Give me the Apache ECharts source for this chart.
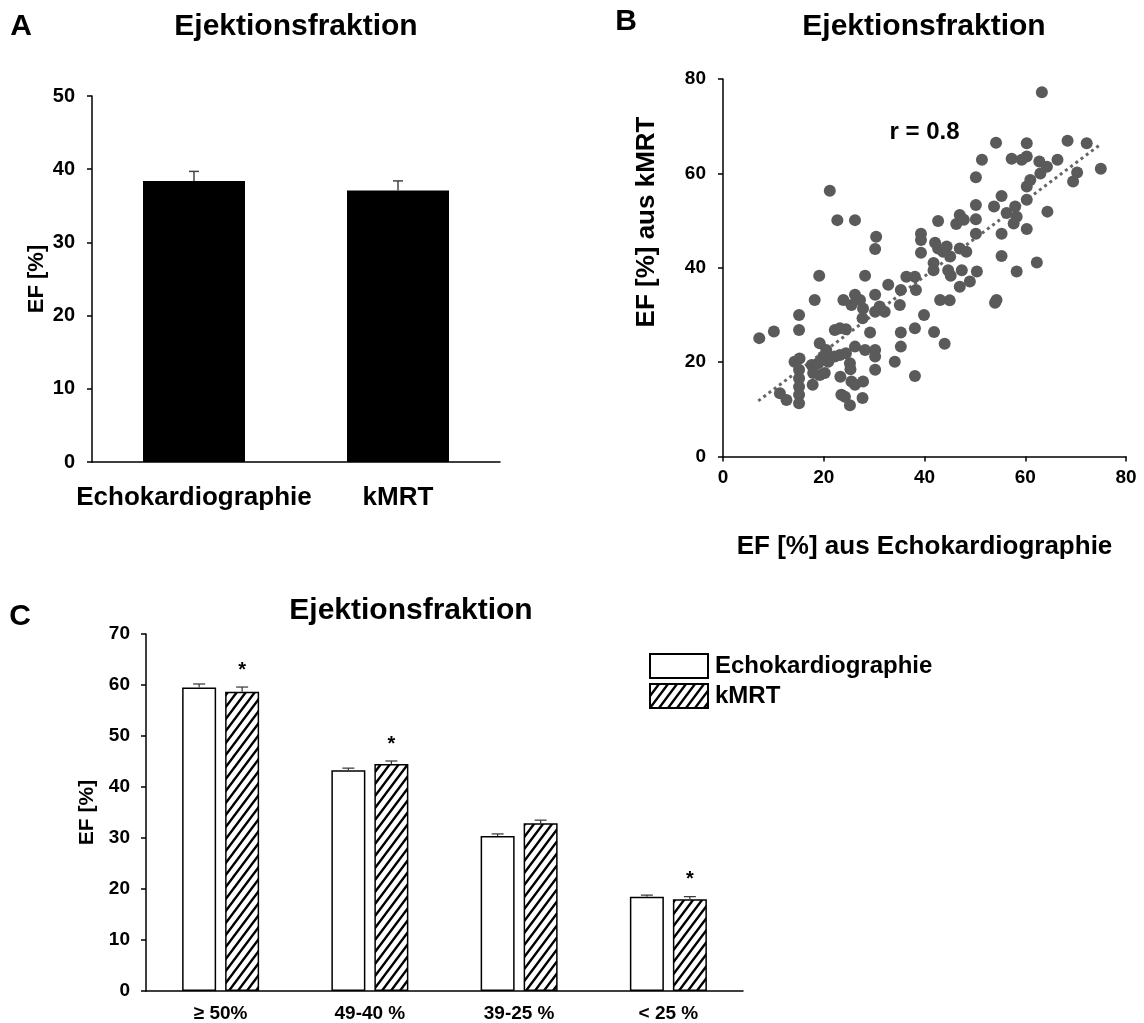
<!DOCTYPE html>
<html><head><meta charset="utf-8">
<script src="https://cdn.jsdelivr.net/npm/echarts@6/dist/echarts.min.js"></script>
<style>html,body{margin:0;padding:0;background:#fff}#c{width:1144px;height:1023px}</style>
</head><body><div id="c"></div>
<script>
// ---------- data ----------
// Panel A
const catsA = ['Echokardiographie', 'kMRT'];
const meanA = [38.4, 37.1];
const semA = [1.3, 1.3];
const yTicksA = [0, 10, 20, 30, 40, 50];

// Panel B  [EF echo, EF kMRT]
const ptsB = [
 [63.3,77.2],[54.2,66.5],[60.3,66.4],[68.4,66.9],[72.2,66.4],[51.4,62.9],[57.3,63.1],[59.3,62.9],[60.3,63.6],
 [62.8,62.5],[64.3,61.4],[66.4,62.9],[75.0,61.0],[50.2,59.2],[63.0,60.0],[70.3,60.2],[69.5,58.3],[61.0,58.6],
 [60.3,57.2],[55.3,55.2],[60.3,54.4],[50.2,53.3],[53.8,53.0],[56.3,51.6],[58.0,53.0],[58.3,50.8],[57.7,49.4],
 [60.3,48.2],[64.4,51.9],[50.2,50.3],[50.2,47.2],[55.3,47.2],[55.3,42.5],[62.3,41.1],[58.3,39.2],
 [42.7,49.9],[47.0,51.2],[46.3,49.3],[47.8,50.2],
 [39.3,47.2],[39.3,45.9],[39.3,43.2],[42.1,45.3],[42.7,44.1],[43.7,43.4],[44.4,44.5],[45.1,42.4],[41.8,41.0],
 [41.8,39.5],[44.7,39.5],[47.4,39.5],[47.0,44.1],[48.3,43.4],[50.4,39.2],[49.0,37.1],[47.0,36.0],[45.2,38.3],
 [36.4,38.1],[38.1,38.1],[38.3,35.3],[35.3,35.3],[32.8,36.4],[54.3,33.2],
 [21.2,56.3],[22.7,50.1],[26.2,50.1],[30.4,46.6],[30.2,44.0],
 [19.1,38.3],[28.2,38.3],[18.2,33.2],[23.9,33.2],[25.5,32.1],[26.2,34.3],[27.2,33.2],[27.8,31.4],[27.7,29.3],
 [30.2,34.3],[30.2,30.7],[31.1,31.8],[32.1,30.7],[35.1,32.1],[38.1,27.2],[35.3,26.3],[35.3,23.3],[34.1,20.1],
 [38.1,17.1],[15.1,30.0],[15.1,26.8],[10.1,26.5],[7.2,25.1],[19.2,24.0],[22.2,26.8],[23.2,27.2],[24.4,27.0],
 [29.2,26.3],[26.2,23.3],[28.2,22.6],[30.2,22.6],[30.2,21.2],[30.2,18.4],[20.5,22.6],[19.9,21.2],[20.9,20.1],
 [22.2,21.2],[23.2,21.5],[24.4,21.9],[25.2,19.8],[25.3,18.5],[18.9,19.8],[17.6,19.4],[17.9,17.7],[19.2,17.3],
 [20.2,17.7],[17.8,15.2],[14.2,20.1],[15.2,20.8],[15.1,18.4],[15.1,16.6],[15.1,14.8],[15.1,13.1],[15.1,11.3],
 [11.3,13.4],[12.6,12.0],[23.3,16.9],[25.5,15.9],[26.2,15.2],[27.8,15.9],[23.5,13.1],[24.2,12.7],[25.2,10.9],
 [27.7,12.4],[43.1,33.2],[45.0,33.1],[54.0,32.6],[41.9,26.4],[44.0,23.9],[39.9,30.0]
];
const trendB = [[7, 11.8], [75, 66.2]];
const rText = 'r = 0.8';
const rPos = [40, 68.6];
const xTicksB = [0, 20, 40, 60, 80];
const yTicksB = [0, 20, 40, 60, 80];

// Panel C
const catsC = ['\u2265 50%', '49-40 %', '39-25 %', '< 25 %'];
const seriesC = ['Echokardiographie', 'kMRT'];
const echoC = [59.5, 43.3, 30.4, 18.5];
const echoSemC = [0.7, 0.4, 0.4, 0.3];
const mrtC = [58.7, 44.5, 32.9, 18.0];
const mrtSemC = [0.9, 0.6, 0.6, 0.5];
const mrtSig = [1, 1, 0, 1];
const yTicksC = [0, 10, 20, 30, 40, 50, 60, 70];

// ---------- styling ----------
const FF = '"Liberation Sans", Arial, Helvetica, sans-serif';
const BLACK = '#000';
const BAR_W_C = 34, GAP_C = 9;

function hatch() {
  const w = 9, h = 12;
  const c = document.createElement('canvas');
  c.width = w; c.height = h;
  const g = c.getContext('2d');
  g.fillStyle = '#fff'; g.fillRect(0, 0, w, h);
  g.strokeStyle = '#000'; g.lineWidth = 2.4;
  g.beginPath();
  g.moveTo(-1, h + 4/3); g.lineTo(w + 1, -4/3);
  g.moveTo(-1, 4/3); g.lineTo(1, -4/3);
  g.moveTo(w - 1, h + 4/3); g.lineTo(w + 1, h - 4/3);
  g.stroke();
  return c;
}
const hatchPattern = { image: hatch(), repeat: 'repeat' };

function valAxis(grid, ticks, labelSize, margin, name, nameGap, nameSize) {
  return {
    type: 'value', gridIndex: grid, min: ticks[0], max: ticks[ticks.length - 1], interval: ticks[1] - ticks[0],
    axisLine: { show: true, lineStyle: { color: BLACK, width: 1.5 } },
    axisTick: { show: true, length: 5, lineStyle: { color: BLACK, width: 1.5 } },
    splitLine: { show: false },
    axisLabel: { color: BLACK, fontSize: labelSize, fontWeight: 'bold', fontFamily: FF, margin: margin },
    name: name, nameLocation: 'middle', nameGap: nameGap,
    nameTextStyle: { color: BLACK, fontSize: nameSize, fontWeight: 'bold', fontFamily: FF }
  };
}
function catAxis(grid, cats, labelSize, margin) {
  return {
    type: 'category', gridIndex: grid, data: cats,
    axisLine: { lineStyle: { color: BLACK, width: 1.5 } },
    axisTick: { show: false },
    axisLabel: { color: BLACK, fontSize: labelSize, fontWeight: 'bold', fontFamily: FF, margin: margin, interval: 0 }
  };
}
function errRender(offset, capW, color, lw) {
  return function (params, api) {
    const i = api.value(0), v = api.value(1), s = api.value(2);
    const p0 = api.coord([i, v]);
    const p1 = api.coord([i, v + s]);
    const x = p0[0] + offset;
    return { type: 'group', children: [
      { type: 'line', shape: { x1: x, y1: p0[1], x2: x, y2: p1[1] }, style: { stroke: color, lineWidth: lw } },
      { type: 'line', shape: { x1: x - capW / 2, y1: p1[1], x2: x + capW / 2, y2: p1[1] }, style: { stroke: color, lineWidth: lw } }
    ]};
  };
}
function starRender(offset) {
  return function (params, api) {
    const p = api.coord([api.value(0), api.value(1) + api.value(2)]);
    return { type: 'text', style: { text: '*', x: p[0] + offset, y: p[1] - 17, textAlign: 'center', textVerticalAlign: 'middle',
      font: 'bold 20px ' + FF, fill: BLACK } };
  };
}

const chart = echarts.init(document.getElementById('c'), null, { renderer: 'canvas' });
const titleFont = 'bold 30px ' + FF;
const letterFont = 'bold 30px ' + FF;
function tx(text, x, y, font, rot) {
  return { type: 'text', x: x, y: y, rotation: rot || 0,
    style: { text: text, font: font, fill: BLACK, textAlign: 'center', textVerticalAlign: 'middle' } };
}

const yNameB = valAxis(1, yTicksB, 19, 17, '', 0, 26);
const option = {
  backgroundColor: '#fff',
  animation: false,
  graphic: [
    tx('A', 21, 27, letterFont),
    tx('Ejektionsfraktion', 296, 27, titleFont),
    tx('B', 626, 22, letterFont),
    tx('Ejektionsfraktion', 924, 27, titleFont),
    tx('C', 20, 617, letterFont),
    tx('Ejektionsfraktion', 411, 611, titleFont),
    tx('EF [%] aus kMRT', 647, 222, 'bold 26px ' + FF, Math.PI / 2)
  ],
  legend: {
    data: seriesC, orient: 'vertical', left: 644, top: 648,
    itemWidth: 58, itemHeight: 24, itemGap: 4, icon: 'rect',
    textStyle: { color: BLACK, fontSize: 24, fontWeight: 'bold', fontFamily: FF, padding: [0, 0, 0, 2] },
    selectedMode: false
  },
  grid: [
    { left: 92, top: 96, width: 408, height: 366 },
    { left: 723, top: 79, width: 403, height: 377.6 },
    { left: 146, top: 634, width: 597, height: 358 }
  ],
  xAxis: [
    catAxis(0, catsA, 26, 23),
    valAxis(1, xTicksB, 19, 12, 'EF [%] aus Echokardiographie', 77, 26),
    catAxis(2, catsC, 19, 13)
  ],
  yAxis: [
    valAxis(0, yTicksA, 20, 17, 'EF [%]', 44, 22),
    yNameB,
    valAxis(2, yTicksC, 19, 16, 'EF [%]', 47, 21)
  ],
  series: [
    // Panel A
    { name: 'EF A', type: 'bar', xAxisIndex: 0, yAxisIndex: 0, data: meanA, barWidth: 102,
      itemStyle: { color: BLACK } },
    { type: 'custom', xAxisIndex: 0, yAxisIndex: 0, z: 5,
      data: meanA.map((v, i) => [i, v, semA[i]]), renderItem: errRender(0, 10, '#444', 1.5) },
    // Panel B
    { name: 'Scatter', type: 'scatter', xAxisIndex: 1, yAxisIndex: 1, data: ptsB, symbolSize: 12,
      itemStyle: { color: '#5a5a5a', opacity: 1 } },
    { name: 'Trend', type: 'line', xAxisIndex: 1, yAxisIndex: 1, data: trendB, showSymbol: false, symbol: 'none',
      lineStyle: { color: '#666', width: 3, type: [3, 3.5] }, z: 1 },
    { type: 'custom', xAxisIndex: 1, yAxisIndex: 1, data: [rPos],
      renderItem: function (params, api) {
        const p = api.coord([api.value(0), api.value(1)]);
        return { type: 'text', style: { text: rText, x: p[0], y: p[1], textAlign: 'center', textVerticalAlign: 'middle',
          font: 'bold 24px ' + FF, fill: BLACK } };
      } },
    // Panel C
    { name: seriesC[0], type: 'bar', xAxisIndex: 2, yAxisIndex: 2, data: echoC, barWidth: BAR_W_C,
      barGap: (GAP_C / BAR_W_C * 100) + '%',
      itemStyle: { color: '#fff', borderColor: BLACK, borderWidth: 1.5 } },
    { name: seriesC[1], type: 'bar', xAxisIndex: 2, yAxisIndex: 2, data: mrtC, barWidth: BAR_W_C,
      barGap: (GAP_C / BAR_W_C * 100) + '%',
      itemStyle: { color: hatchPattern, borderColor: BLACK, borderWidth: 1.5 } },
    { type: 'custom', xAxisIndex: 2, yAxisIndex: 2, z: 5,
      data: echoC.map((v, i) => [i, v, echoSemC[i]]), renderItem: errRender(-(BAR_W_C + GAP_C) / 2, 12, '#333', 1.2) },
    { type: 'custom', xAxisIndex: 2, yAxisIndex: 2, z: 5,
      data: mrtC.map((v, i) => [i, v, mrtSemC[i]]), renderItem: errRender((BAR_W_C + GAP_C) / 2, 12, '#333', 1.2) },
    { type: 'custom', xAxisIndex: 2, yAxisIndex: 2, z: 5,
      data: mrtC.map((v, i) => [i, v, mrtSemC[i], mrtSig[i]]).filter(d => d[3]),
      renderItem: starRender((BAR_W_C + GAP_C) / 2) }
  ]
};
chart.setOption(option);
</script>
</body></html>
